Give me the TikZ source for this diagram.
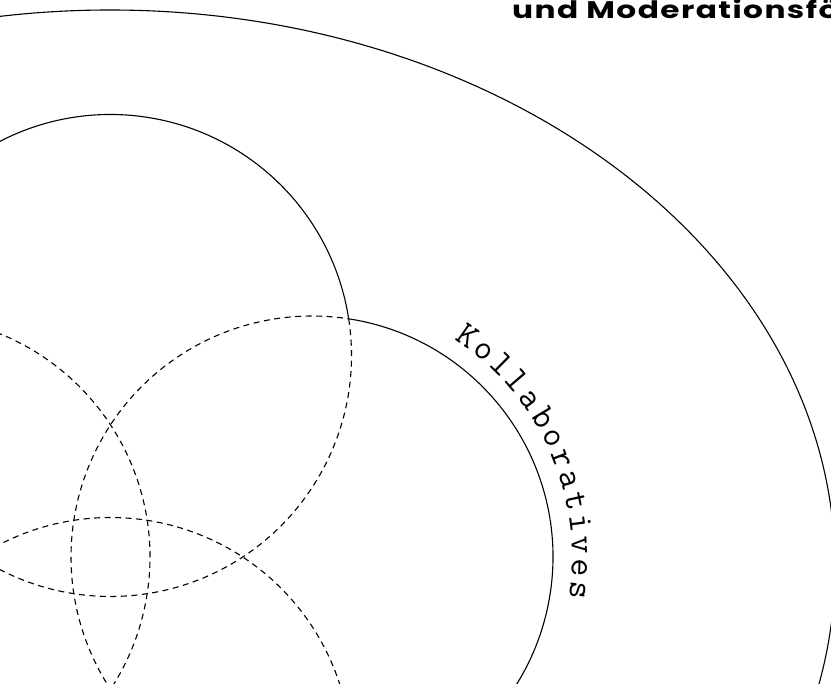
\documentclass[tikz,border=0pt]{standalone}
\usepackage{fontspec}
\newfontfamily\titlefont{Poppins}[FakeStretch=1.3, LetterSpace=6]
\usetikzlibrary{calc}
\begin{document}
\begin{tikzpicture}[x=1pt,y=-1pt,
  solidline/.style={line width=1.1pt},
  dashline/.style={line width=1.1pt, dash pattern=on 6pt off 4.5pt},
  arcletter/.style={font=\ttfamily\fontsize{35}{35}\selectfont, anchor=base, inner sep=0pt},
  titletext/.style={font=\titlefont\bfseries\fontsize{24}{24}\selectfont, anchor=base west, inner sep=0pt}]
\clip (0,0) rectangle (831,684);
% outer ellipse
\coordinate (oc) at (110,567);
\draw[solidline] (oc) ellipse [x radius=725, y radius=557];
% four circles of the flower
\coordinate (c1) at (110.5,355.5);
\coordinate (c2) at (312,557);
\coordinate (c3) at (-91,557);
\coordinate (c4) at (110.5,758.5);
% solid outer boundary arcs
\draw[solidline] (c1) ++(-171.24:241) arc[start angle=-171.24, end angle=-8.76, radius=241];
\draw[solidline] (c2) ++(-81.24:241) arc[start angle=-81.24, end angle=81.24, radius=241];
% dashed inner arcs
\draw[dashline] (c1) ++(-8.76:241) arc[start angle=-8.76, end angle=188.76, radius=241];
\draw[dashline] (c2) ++(81.24:241) arc[start angle=81.24, end angle=278.76, radius=241];
\draw[dashline] (c3) ++(-81.24:241) arc[start angle=-81.24, end angle=98.76, radius=241];
\draw[dashline] (c4) ++(171.24:241) arc[start angle=171.24, end angle=368.76, radius=241];
% curved label
\foreach \ch [count=\i from 0] in {K,o,l,l,a,b,o,r,a,t,i,v,e,s} {
  \pgfmathsetmacro\ang{-54.9+4.77*\i}
  \pgfmathsetmacro\rot{-90-(\ang)}
  \node[arcletter, rotate=\rot] (k\i) at ([shift={(\ang:260)}]c2) {\ch};
}
% title
\node[titletext] (title) at (512,18.3) {und Moderationsfö};
\end{tikzpicture}
\end{document}
